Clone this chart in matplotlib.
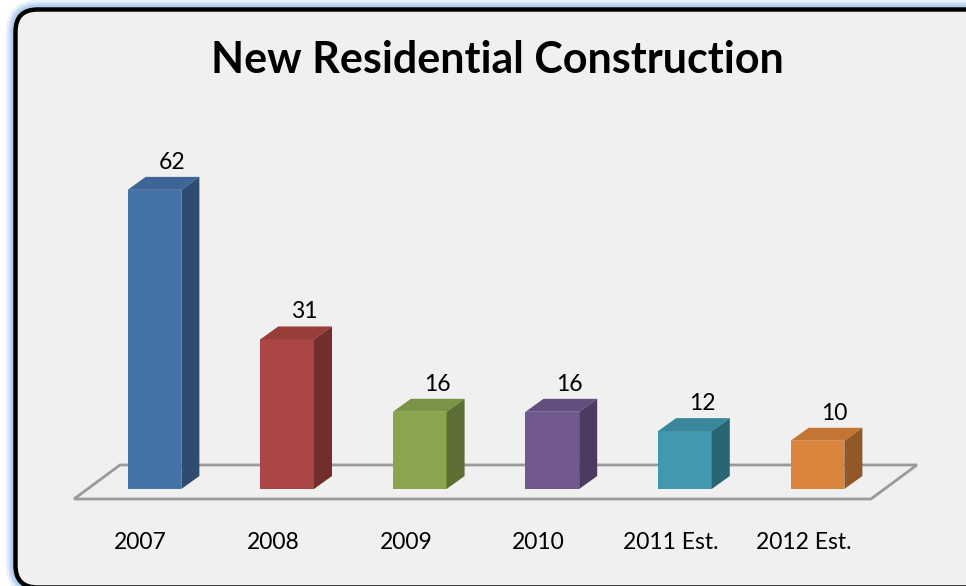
import matplotlib.pyplot as plt
from matplotlib.patches import FancyBboxPatch, Polygon

years = ['2007', '2008', '2009', '2010', '2011 Est.', '2012 Est.']
starts = [62, 31, 16, 16, 12, 10]

front_cols = ['#4572A7', '#AA4643', '#89A54E', '#71588F', '#4198AF', '#DB843D']
top_cols = ['#3D6696', '#973E3B', '#7A9345', '#644E7F', '#3A879C', '#C37536']
side_cols = ['#2E4B70', '#712E2C', '#5B6E33', '#4B3B5F', '#2B6575', '#925828']

W, H = 966, 586
fig = plt.figure(figsize=(W / 100, H / 100), dpi=100)
fig.patch.set_facecolor('white')

# frame in pixel units
bg = fig.add_axes([0, 0, 1, 1])
bg.set_xlim(0, W)
bg.set_ylim(0, H)
bg.axis('off')
box = (15.5, -1.5), 975, 578
for lw, a in [(14, 0.25), (10, 0.45), (7, 0.7)]:
    bg.add_patch(FancyBboxPatch(*box, boxstyle='round,pad=0,rounding_size=22',
                                fc='none', ec='#A9C8EC', lw=lw, alpha=a))
bg.add_patch(FancyBboxPatch(*box, boxstyle='round,pad=0,rounding_size=22',
                            fc='#F0F0F0', ec='black', lw=3.2))

ax = fig.add_axes([0, 0, 1, 1])
ax.patch.set_alpha(0)
ax.axis('off')
# 132.6 px per category, 4.825 px per unit
ax.set_xlim(-154.5 / 132.6, (W - 154.5) / 132.6)
ax.set_ylim(-97 / 4.825, (H - 97) / 4.825)

w = 0.405
dx, dy = 0.136, 2.69

# floor
fdx, fdy = 0.347, 7.05
f0, f1, fy = -0.607, 5.403, -2.07
ax.add_patch(Polygon([(f0, fy), (f1, fy), (f1 + fdx, fy + fdy), (f0 + fdx, fy + fdy)],
                     closed=True, fc='none', ec='#9A9A9A', lw=2.0, zorder=1))

xs = list(range(len(years)))
ax.bar(xs, starts, width=w, color=front_cols, zorder=3)
for x, v, tc, sc in zip(xs, starts, top_cols, side_cols):
    l, r = x - w / 2, x + w / 2
    ax.add_patch(Polygon([(l, v), (r, v), (r + dx, v + dy), (l + dx, v + dy)],
                         closed=True, fc=tc, ec='none', zorder=3))
    ax.add_patch(Polygon([(r, 0), (r + dx, dy), (r + dx, v + dy), (r, v)],
                         closed=True, fc=sc, ec='none', zorder=3))
    ax.text(x + 0.13, v + 5.7, str(v), ha='center', va='center',
            fontsize=16.5, family='Lato', color='black')

for x, lab in zip(xs, years):
    ax.text(x - 0.105, -11.0, lab, ha='center', va='center',
            fontsize=16.5, family='Lato', color='black')

fig.text(497 / W, 1 - 60 / H, 'New Residential Construction', ha='center', va='center',
         fontsize=31, fontweight='bold', family='Lato', color='black')

fig.savefig('out.png', dpi=100, facecolor='white')
